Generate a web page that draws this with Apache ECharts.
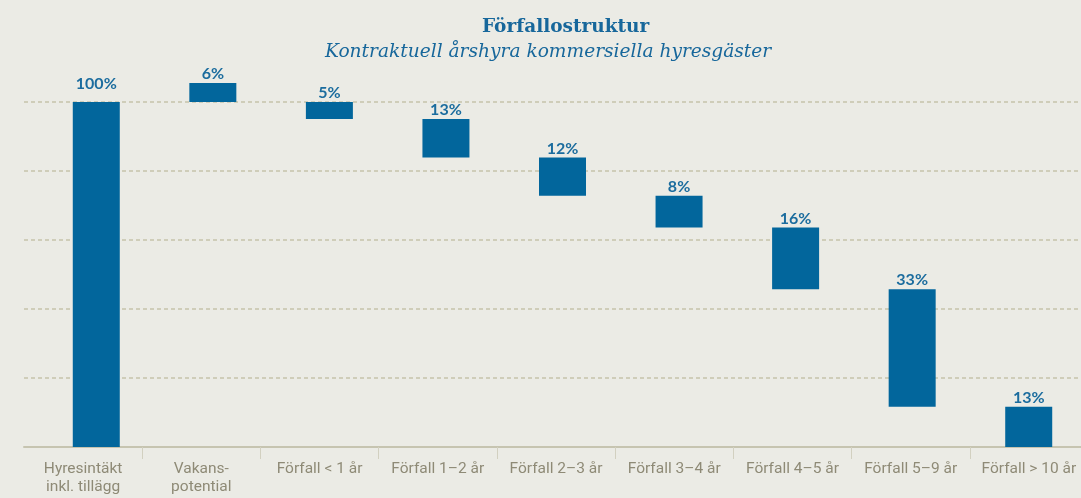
<!DOCTYPE html>
<html>
<head>
<meta charset="utf-8">
<script src="https://cdn.jsdelivr.net/npm/echarts@6/dist/echarts.min.js"></script>
<style>
html,body{margin:0;padding:0;background:#ebebe5;overflow:hidden;}
#chart{width:1092px;height:498px;}
</style>
</head>
<body>
<div id="chart"></div>
<script>
// Categories (x axis tick labels)
const categories = [
  'Hyresintäkt\ninkl. tillägg',
  'Vakans-\npotential',
  'Förfall < 1 år',
  'Förfall 1–2 år',
  'Förfall 2–3 år',
  'Förfall 3–4 år',
  'Förfall 4–5 år',
  'Förfall 5–9 år',
  'Förfall > 10 år'
];
// Waterfall bar extents (share of annual rent, %)
const barBottom = [0, 100, 95.1, 83.9, 72.8, 63.6, 45.7, 11.7, 0];
const barTop    = [100, 105.5, 100, 95.1, 83.9, 72.8, 63.6, 45.7, 11.7];
// Printed value labels
const valueLabels = ['100%', '6%', '5%', '13%', '12%', '8%', '16%', '33%', '13%'];
// Y axis scale
const yMin = 0, yMax = 120, yStep = 20;

const barColor = '#02669c';
const chart = echarts.init(document.getElementById('chart'), null, {renderer: 'canvas'});

const visible = barTop.map((t, i) => {
  const item = { value: +(t - barBottom[i]).toFixed(2) };
  if (i === 0) item.label = { distance: 10 };
  return item;
});

chart.setOption({
  backgroundColor: '#ebebe5',
  animation: false,
  title: [
    {
      text: 'Förfallostruktur',
      left: 477, top: 11,
      textStyle: { fontFamily: 'DejaVu Serif', fontWeight: 'bold', fontSize: 18.5, color: '#17679b', lineHeight: 22 }
    },
    {
      text: 'Kontraktuell årshyra kommersiella hyresgäster',
      left: 320, top: 36,
      textStyle: { fontFamily: 'DejaVu Serif', fontStyle: 'italic', fontWeight: 'normal', fontSize: 18.6, color: '#17679b', lineHeight: 22 }
    }
  ],
  grid: [
    { left: 24, right: 4, top: 33, bottom: 51 },
    { left: 38, right: 5, top: 33, bottom: 51 }
  ],
  xAxis: [
    {
      type: 'category', gridIndex: 0, data: categories,
      axisLine: { show: true, lineStyle: { color: '#c6c4b0', width: 2 } },
      axisTick: { show: true, length: 12, lineStyle: { color: '#d2d0c0', width: 1 },
                  interval: function (idx) { return idx !== 0; } },
      axisLabel: { interval: 0, margin: 13, color: '#8e8a76', fontFamily: 'Roboto', fontSize: 15.5, lineHeight: 18 },
      splitLine: { show: false }
    },
    {
      type: 'category', gridIndex: 1, data: categories, show: false
    }
  ],
  yAxis: [
    {
      type: 'value', gridIndex: 0, min: yMin, max: yMax, interval: yStep,
      axisLine: { show: false }, axisTick: { show: false }, axisLabel: { show: false },
      splitLine: { show: true, showMinLine: false, showMaxLine: false,
                   lineStyle: { color: '#cfcdb9', width: 2, type: [4, 3] } }
    },
    {
      type: 'value', gridIndex: 1, min: yMin, max: yMax, interval: yStep, show: false,
      splitLine: { show: false }
    }
  ],
  series: [
    {
      type: 'bar', xAxisIndex: 1, yAxisIndex: 1, stack: 'wf',
      data: barBottom, barWidth: 47,
      itemStyle: { color: 'transparent' },
      silent: true
    },
    {
      type: 'bar', xAxisIndex: 1, yAxisIndex: 1, stack: 'wf',
      data: visible, barWidth: 47,
      itemStyle: { color: barColor },
      label: {
        show: true, position: 'top', distance: 1,
        formatter: p => valueLabels[p.dataIndex],
        fontFamily: 'Lato', fontWeight: 'bold', fontSize: 16, color: '#1b6c9e'
      }
    }
  ]
});
</script>
</body>
</html>
